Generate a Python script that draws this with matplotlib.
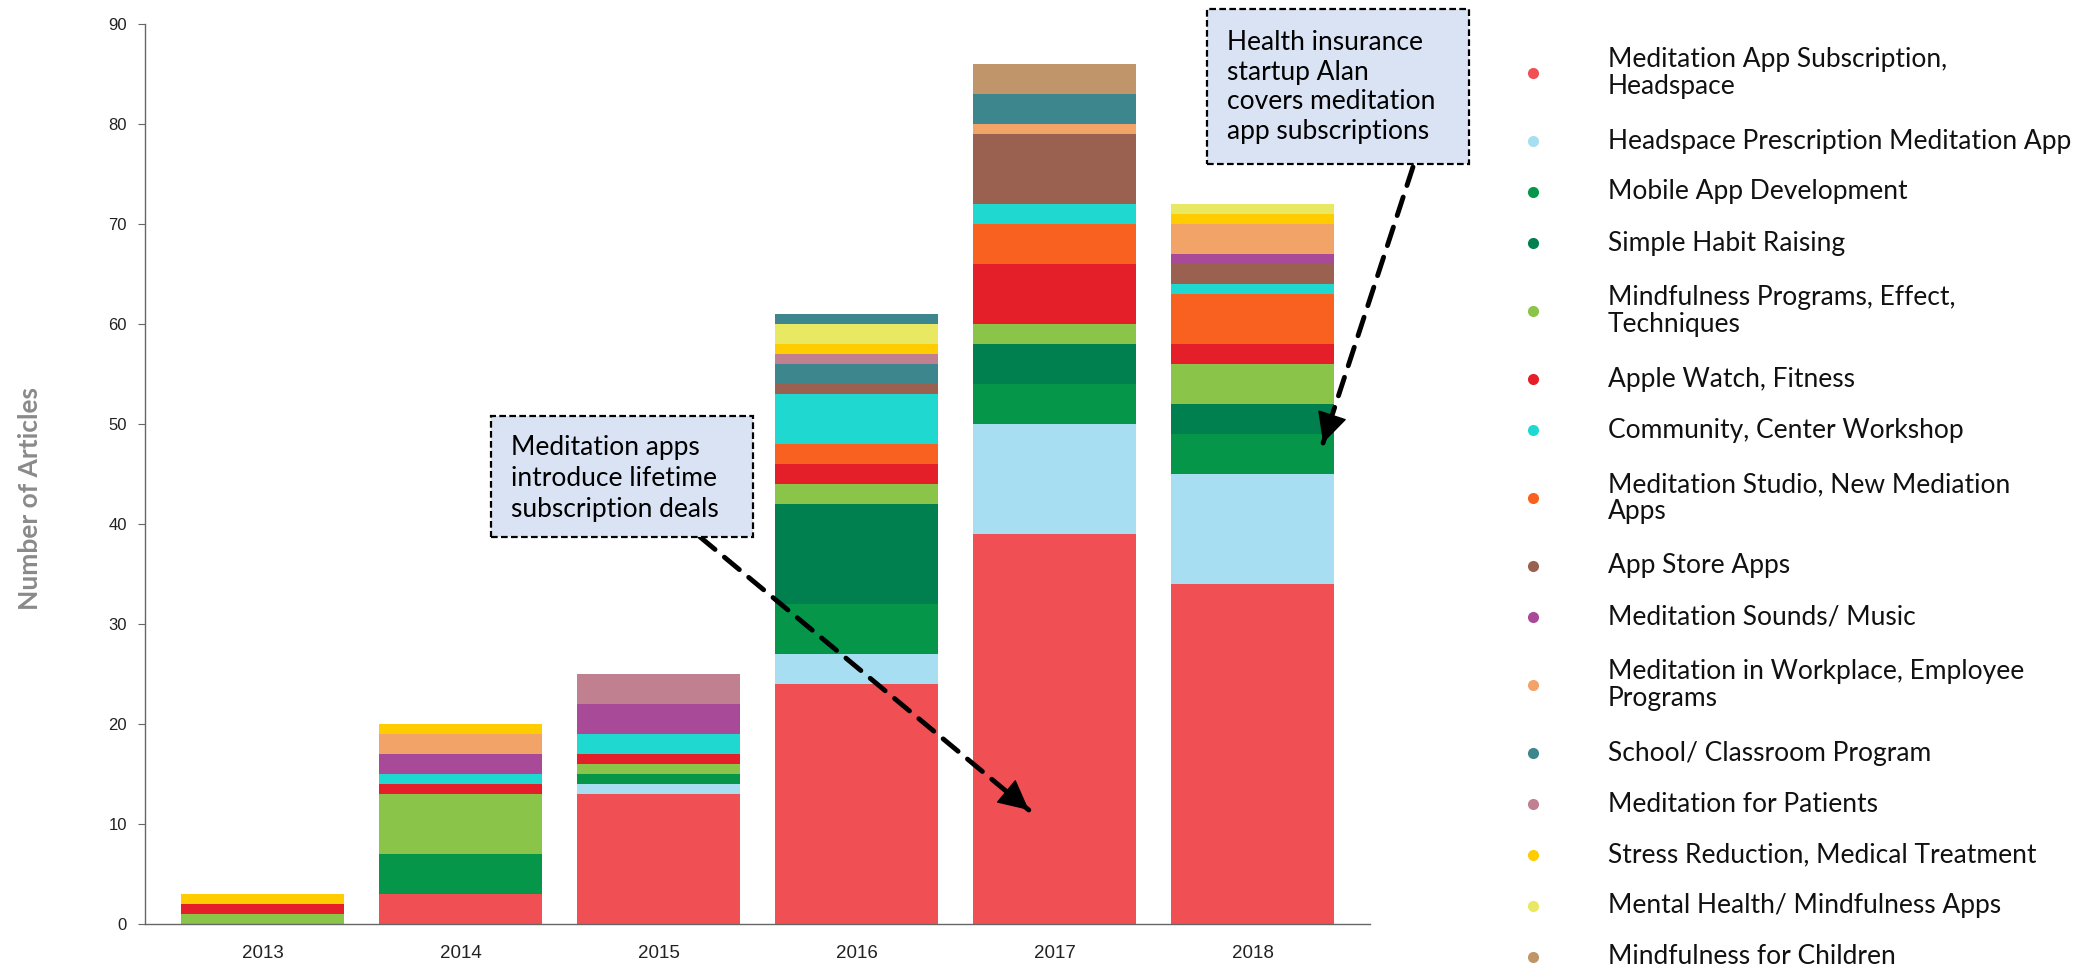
import numpy as np
import matplotlib
matplotlib.use('Agg')
import matplotlib.pyplot as plt
from matplotlib.patches import Rectangle
from matplotlib.lines import Line2D

# ---- data (articles per year) ----
years = ['2013', '2014', '2015', '2016', '2017', '2018']

sub_headspace  = [0, 3, 13, 24, 39, 34]
prescription   = [0, 0, 1, 3, 11, 11]
mobile_dev     = [0, 4, 1, 5, 4, 4]
simple_habit   = [0, 0, 0, 10, 4, 3]
mindful_prog   = [1, 6, 1, 2, 2, 4]
apple_watch    = [1, 1, 1, 2, 6, 2]
community      = [0, 1, 2, 5, 2, 1]
studio         = [0, 0, 0, 2, 4, 5]
app_store      = [0, 0, 0, 1, 7, 2]
sounds         = [0, 2, 3, 0, 0, 1]
workplace      = [0, 2, 0, 0, 1, 3]
school         = [0, 0, 0, 2, 3, 0]
patients       = [0, 0, 3, 1, 0, 0]
stress         = [1, 1, 0, 1, 0, 1]
mental_health  = [0, 0, 0, 2, 0, 1]
children       = [0, 0, 0, 0, 3, 0]
school_top     = [0, 0, 0, 1, 0, 0]   # second teal block on top of 2016

legend_labels = [
    'Meditation App Subscription,\nHeadspace',
    'Headspace Prescription Meditation App',
    'Mobile App Development',
    'Simple Habit Raising',
    'Mindfulness Programs, Effect,\nTechniques',
    'Apple Watch, Fitness',
    'Community, Center Workshop',
    'Meditation Studio, New Mediation\nApps',
    'App Store Apps',
    'Meditation Sounds/ Music',
    'Meditation in Workplace, Employee\nPrograms',
    'School/ Classroom Program',
    'Meditation for Patients',
    'Stress Reduction, Medical Treatment',
    'Mental Health/ Mindfulness Apps',
    'Mindfulness for Children',
]
legend_colors = ['#F05054', '#A8DEF2', '#05964A', '#007F4F', '#8AC449', '#E41F2A',
                 '#1FD8D0', '#F86120', '#9A6151', '#A84A98', '#F2A468', '#3E868E',
                 '#C08090', '#FFCC00', '#E8E862', '#C0956A']

# stacking order in the bars (bottom -> top)
stack = [
    (sub_headspace, '#F05054'), (prescription, '#A8DEF2'), (mobile_dev, '#05964A'),
    (simple_habit, '#007F4F'), (mindful_prog, '#8AC449'), (apple_watch, '#E41F2A'),
    (studio, '#F86120'), (community, '#1FD8D0'), (app_store, '#9A6151'),
    (sounds, '#A84A98'), (workplace, '#F2A468'), (school, '#3E868E'),
    (patients, '#C08090'), (stress, '#FFCC00'), (mental_health, '#E8E862'),
    (school_top, '#3E868E'), (children, '#C0956A'),
]

W, H = 2100, 976
fig = plt.figure(figsize=(W / 100, H / 100), dpi=100)
ax = fig.add_axes([145 / W, 1 - 924 / H, (1370 - 145) / W, (924 - 24) / H])

x = np.arange(len(years))
bottom = np.zeros(len(years))
for vals, col in stack:
    vals = np.array(vals, dtype=float)
    ax.bar(x, vals, bottom=bottom, width=0.82, color=col, linewidth=0, zorder=2)
    bottom += vals

ax.set_xlim(-0.593, 5.593)
ax.set_ylim(0, 90)
ax.set_yticks(np.arange(0, 91, 10))
ax.set_xticks(x)
ax.set_xticklabels(years)
for s in ['top', 'right']:
    ax.spines[s].set_visible(False)
for s in ['left', 'bottom']:
    ax.spines[s].set_color('#666666')
    ax.spines[s].set_linewidth(1.0)
ax.tick_params(axis='y', length=5, color='#666666', pad=8, labelsize=12, labelcolor='#222222')
ax.tick_params(axis='x', length=0, pad=15, labelsize=13.5, labelcolor='#222222')
for lab in ax.get_xticklabels() + ax.get_yticklabels():
    lab.set_family('Liberation Sans')

fig.text(30 / W, 1 - 498 / H, 'Number of Articles', rotation=90, ha='center', va='center',
         fontsize=19, fontweight='bold', color='#8A8A8A', family='Lato')

# ---- annotation boxes ----
def fx(px):
    return px / W

def fy(py):
    return 1 - py / H

box_fc = '#DAE3F3'
for (x0, y0, x1, y1) in [(491, 416, 753, 537), (1207, 9, 1469, 164)]:
    fig.add_artist(Rectangle((fx(x0), fy(y1)), fx(x1) - fx(x0), fy(y0) - fy(y1),
                             transform=fig.transFigure, facecolor=box_fc, edgecolor='black',
                             linewidth=1.6, linestyle=(0, (3, 1.5)), zorder=5))

fig.text(fx(511), fy(478), 'Meditation apps\nintroduce lifetime\nsubscription deals',
         ha='left', va='center', fontsize=19, family='Lato', linespacing=1.3, zorder=6)
fig.text(fx(1227), fy(87), 'Health insurance\nstartup Alan\ncovers meditation\napp subscriptions',
         ha='left', va='center', fontsize=19, family='Lato', linespacing=1.24, zorder=6)

# ---- dashed arrows ----
def dashed_arrow(start, end):
    start = np.array(start)
    end = np.array(end)
    ax.annotate('', xy=end, xytext=start, annotation_clip=False,
                arrowprops=dict(arrowstyle='-', lw=3.5, color='black', linestyle=(0, (4, 2.5)),
                                shrinkA=0, shrinkB=0), zorder=7)
    pre = end - 0.08 * (end - start)
    ax.annotate('', xy=end, xytext=pre, annotation_clip=False,
                arrowprops=dict(arrowstyle='-|>,head_length=0.9,head_width=0.45', lw=1,
                                color='black', shrinkA=0, shrinkB=0, mutation_scale=22), zorder=7)

dashed_arrow((2.21, 38.7), (3.87, 11.4))
dashed_arrow((5.81, 75.7), (5.356, 48.1))

# ---- legend (manual, figure coords) ----
y = 73
prev_lines = None
for lab, col in zip(legend_labels, legend_colors):
    n = lab.count('\n') + 1
    if prev_lines is not None:
        y += 51 + 17 * (prev_lines - 1) + 17 * (n - 1)
    fig.add_artist(Line2D([fx(1533)], [fy(y)], marker='o', markersize=8, color=col,
                          markeredgewidth=0, linestyle='none', transform=fig.transFigure))
    fig.text(fx(1608), fy(y), lab, ha='left', va='center', fontsize=19, family='Lato',
             linespacing=1.1, color='#111111')
    prev_lines = n

fig.savefig('out.png', dpi=100, facecolor='white')
